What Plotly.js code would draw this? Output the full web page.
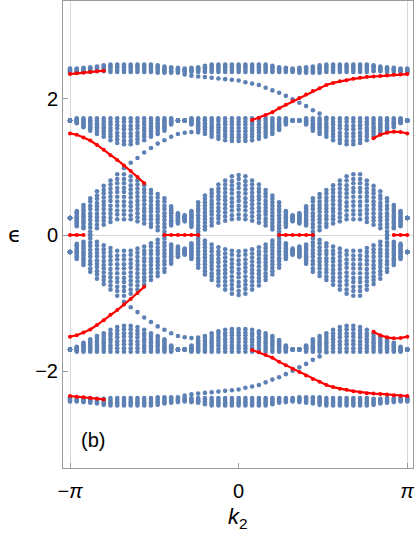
<!DOCTYPE html>
<html>
<head>
<meta charset="utf-8">
<script src="https://cdn.plot.ly/plotly-3.0.1.min.js"></script>
<style>
  html, body { margin: 0; padding: 0; background: #fff; }
  #graph { width: 415px; height: 535px; }
</style>
</head>
<body>
<div id="graph"></div>
<script>
// k2 grid, in units of pi (51 points)
const k2 = [-1,-.96,-.92,-.88,-.84,-.8,-.76,-.72,-.68,-.64,-.6,-.56,-.52,-.48,-.44,-.4,-.36,-.32,-.28,-.24,-.2,-.16,-.12,-.08,-.04,0,
  .04,.08,.12,.16,.2,.24,.28,.32,.36,.4,.44,.48,.52,.56,.6,.64,.68,.72,.76,.8,.84,.88,.92,.96,1];

// bulk levels, one array per level
const upperBand = [
  [2.38,2.39,2.39,2.39,2.40,2.40,2.39,2.39,2.39,2.39,2.39,2.39,2.39,2.38,2.38,2.38,2.38,2.39,2.39,2.39,2.39,2.39,2.39,2.39,2.39,2.39,2.39,2.39,2.39,2.39,2.39,2.39,2.39,2.39,2.38,2.38,2.38,2.38,2.39,2.39,2.39,2.39,2.39,2.39,2.39,2.40,2.40,2.39,2.39,2.39,2.38],
  [2.40,2.40,2.41,2.41,2.42,2.42,2.42,2.42,2.42,2.42,2.42,2.42,2.42,2.41,2.40,2.40,2.40,2.40,2.41,2.41,2.41,2.42,2.42,2.42,2.42,2.42,2.42,2.42,2.42,2.42,2.41,2.41,2.41,2.40,2.40,2.40,2.40,2.41,2.42,2.42,2.42,2.42,2.42,2.42,2.42,2.42,2.42,2.41,2.41,2.40,2.40],
  [2.41,2.42,2.42,2.43,2.44,2.45,2.45,2.45,2.45,2.45,2.45,2.45,2.45,2.44,2.43,2.42,2.42,2.42,2.42,2.43,2.44,2.45,2.45,2.45,2.45,2.45,2.45,2.45,2.45,2.45,2.44,2.43,2.42,2.42,2.42,2.42,2.43,2.44,2.45,2.45,2.45,2.45,2.45,2.45,2.45,2.45,2.44,2.43,2.42,2.42,2.41],
  [2.43,2.43,2.44,2.44,2.45,2.47,2.47,2.47,2.47,2.47,2.47,2.47,2.47,2.46,2.45,2.44,2.43,2.43,2.44,2.44,2.46,2.47,2.47,2.47,2.47,2.47,2.47,2.47,2.47,2.47,2.46,2.44,2.44,2.43,2.43,2.44,2.45,2.46,2.47,2.47,2.47,2.47,2.47,2.47,2.47,2.47,2.45,2.44,2.44,2.43,2.43],
  [2.44,2.44,2.45,2.46,2.47,2.49,2.50,2.50,2.50,2.50,2.50,2.50,2.50,2.49,2.47,2.46,2.45,2.44,2.45,2.46,2.48,2.50,2.50,2.50,2.50,2.50,2.50,2.50,2.50,2.50,2.48,2.46,2.45,2.44,2.45,2.46,2.47,2.49,2.50,2.50,2.50,2.50,2.50,2.50,2.50,2.49,2.47,2.46,2.45,2.44,2.44]
];
const upperBandNeg = [
  [-2.38,-2.39,-2.39,-2.39,-2.40,-2.40,-2.39,-2.39,-2.39,-2.39,-2.39,-2.39,-2.39,-2.38,-2.38,-2.38,-2.38,-2.39,-2.39,-2.39,-2.39,-2.39,-2.39,-2.39,-2.39,-2.39,-2.39,-2.39,-2.39,-2.39,-2.39,-2.39,-2.39,-2.39,-2.38,-2.38,-2.38,-2.38,-2.39,-2.39,-2.39,-2.39,-2.39,-2.39,-2.39,-2.40,-2.40,-2.39,-2.39,-2.39,-2.38],
  [-2.40,-2.40,-2.41,-2.41,-2.42,-2.42,-2.42,-2.42,-2.42,-2.42,-2.42,-2.42,-2.42,-2.41,-2.40,-2.40,-2.40,-2.40,-2.41,-2.41,-2.41,-2.42,-2.42,-2.42,-2.42,-2.42,-2.42,-2.42,-2.42,-2.42,-2.41,-2.41,-2.41,-2.40,-2.40,-2.40,-2.40,-2.41,-2.42,-2.42,-2.42,-2.42,-2.42,-2.42,-2.42,-2.42,-2.42,-2.41,-2.41,-2.40,-2.40],
  [-2.41,-2.42,-2.42,-2.43,-2.44,-2.45,-2.45,-2.45,-2.45,-2.45,-2.45,-2.45,-2.45,-2.44,-2.43,-2.42,-2.42,-2.42,-2.42,-2.43,-2.44,-2.45,-2.45,-2.45,-2.45,-2.45,-2.45,-2.45,-2.45,-2.45,-2.44,-2.43,-2.42,-2.42,-2.42,-2.42,-2.43,-2.44,-2.45,-2.45,-2.45,-2.45,-2.45,-2.45,-2.45,-2.45,-2.44,-2.43,-2.42,-2.42,-2.41],
  [-2.43,-2.43,-2.44,-2.44,-2.45,-2.47,-2.47,-2.47,-2.47,-2.47,-2.47,-2.47,-2.47,-2.46,-2.45,-2.44,-2.43,-2.43,-2.44,-2.44,-2.46,-2.47,-2.47,-2.47,-2.47,-2.47,-2.47,-2.47,-2.47,-2.47,-2.46,-2.44,-2.44,-2.43,-2.43,-2.44,-2.45,-2.46,-2.47,-2.47,-2.47,-2.47,-2.47,-2.47,-2.47,-2.47,-2.45,-2.44,-2.44,-2.43,-2.43],
  [-2.44,-2.44,-2.45,-2.46,-2.47,-2.49,-2.50,-2.50,-2.50,-2.50,-2.50,-2.50,-2.50,-2.49,-2.47,-2.46,-2.45,-2.44,-2.45,-2.46,-2.48,-2.50,-2.50,-2.50,-2.50,-2.50,-2.50,-2.50,-2.50,-2.50,-2.48,-2.46,-2.45,-2.44,-2.45,-2.46,-2.47,-2.49,-2.50,-2.50,-2.50,-2.50,-2.50,-2.50,-2.50,-2.49,-2.47,-2.46,-2.45,-2.44,-2.44]
];

const middleBand = [
  [1.68,1.64,1.58,1.53,1.48,1.44,1.39,1.35,1.33,1.33,1.35,1.39,1.44,1.48,1.53,1.62,1.68,1.68,1.62,1.54,1.48,1.44,1.41,1.39,1.38,1.38,1.38,1.39,1.41,1.44,1.48,1.54,1.62,1.68,1.68,1.62,1.53,1.48,1.44,1.39,1.35,1.33,1.33,1.35,1.39,1.44,1.48,1.53,1.58,1.64,1.68],
  [1.68,1.65,1.60,1.56,1.51,1.48,1.44,1.40,1.38,1.38,1.40,1.44,1.48,1.51,1.56,1.63,1.68,1.68,1.63,1.56,1.51,1.48,1.45,1.44,1.43,1.43,1.43,1.44,1.45,1.48,1.51,1.56,1.63,1.68,1.68,1.63,1.56,1.51,1.48,1.44,1.40,1.38,1.38,1.40,1.44,1.48,1.51,1.56,1.60,1.65,1.68],
  [1.68,1.66,1.62,1.58,1.55,1.52,1.48,1.45,1.44,1.44,1.45,1.48,1.52,1.55,1.58,1.65,1.68,1.68,1.65,1.59,1.55,1.52,1.50,1.48,1.47,1.47,1.47,1.48,1.50,1.52,1.55,1.59,1.65,1.68,1.68,1.65,1.58,1.55,1.52,1.48,1.45,1.44,1.44,1.45,1.48,1.52,1.55,1.58,1.62,1.66,1.68],
  [1.68,1.67,1.64,1.61,1.58,1.56,1.53,1.50,1.49,1.49,1.50,1.53,1.56,1.58,1.61,1.66,1.68,1.68,1.66,1.61,1.58,1.56,1.54,1.53,1.52,1.52,1.52,1.53,1.54,1.56,1.58,1.61,1.66,1.68,1.68,1.66,1.61,1.58,1.56,1.53,1.50,1.49,1.49,1.50,1.53,1.56,1.58,1.61,1.64,1.67,1.68],
  [1.68,1.68,1.65,1.63,1.61,1.59,1.57,1.56,1.55,1.55,1.56,1.57,1.59,1.61,1.63,1.67,1.68,1.68,1.67,1.64,1.61,1.59,1.58,1.57,1.57,1.57,1.57,1.57,1.58,1.59,1.61,1.64,1.67,1.68,1.68,1.67,1.63,1.61,1.59,1.57,1.56,1.55,1.55,1.56,1.57,1.59,1.61,1.63,1.65,1.68,1.68],
  [1.68,1.69,1.67,1.66,1.64,1.63,1.62,1.61,1.60,1.60,1.61,1.62,1.63,1.64,1.66,1.68,1.68,1.68,1.68,1.66,1.64,1.63,1.62,1.62,1.62,1.62,1.62,1.62,1.62,1.63,1.64,1.66,1.68,1.68,1.68,1.68,1.66,1.64,1.63,1.62,1.61,1.60,1.60,1.61,1.62,1.63,1.64,1.66,1.67,1.69,1.68],
  [1.68,1.70,1.69,1.68,1.68,1.67,1.66,1.66,1.66,1.66,1.66,1.66,1.67,1.68,1.68,1.70,1.68,1.68,1.70,1.69,1.68,1.67,1.67,1.66,1.66,1.66,1.66,1.66,1.67,1.67,1.68,1.69,1.70,1.68,1.68,1.70,1.68,1.68,1.67,1.66,1.66,1.66,1.66,1.66,1.66,1.67,1.68,1.68,1.69,1.70,1.68],
  [1.68,1.71,1.71,1.71,1.71,1.71,1.71,1.71,1.71,1.71,1.71,1.71,1.71,1.71,1.71,1.71,1.68,1.68,1.71,1.71,1.71,1.71,1.71,1.71,1.71,1.71,1.71,1.71,1.71,1.71,1.71,1.71,1.71,1.68,1.68,1.71,1.71,1.71,1.71,1.71,1.71,1.71,1.71,1.71,1.71,1.71,1.71,1.71,1.71,1.71,1.68]
];
const middleBandNeg = [
  [-1.68,-1.64,-1.58,-1.53,-1.48,-1.44,-1.39,-1.35,-1.33,-1.33,-1.35,-1.39,-1.44,-1.48,-1.53,-1.62,-1.68,-1.68,-1.62,-1.54,-1.48,-1.44,-1.41,-1.39,-1.38,-1.38,-1.38,-1.39,-1.41,-1.44,-1.48,-1.54,-1.62,-1.68,-1.68,-1.62,-1.53,-1.48,-1.44,-1.39,-1.35,-1.33,-1.33,-1.35,-1.39,-1.44,-1.48,-1.53,-1.58,-1.64,-1.68],
  [-1.68,-1.65,-1.60,-1.56,-1.51,-1.48,-1.44,-1.40,-1.38,-1.38,-1.40,-1.44,-1.48,-1.51,-1.56,-1.63,-1.68,-1.68,-1.63,-1.56,-1.51,-1.48,-1.45,-1.44,-1.43,-1.43,-1.43,-1.44,-1.45,-1.48,-1.51,-1.56,-1.63,-1.68,-1.68,-1.63,-1.56,-1.51,-1.48,-1.44,-1.40,-1.38,-1.38,-1.40,-1.44,-1.48,-1.51,-1.56,-1.60,-1.65,-1.68],
  [-1.68,-1.66,-1.62,-1.58,-1.55,-1.52,-1.48,-1.45,-1.44,-1.44,-1.45,-1.48,-1.52,-1.55,-1.58,-1.65,-1.68,-1.68,-1.65,-1.59,-1.55,-1.52,-1.50,-1.48,-1.47,-1.47,-1.47,-1.48,-1.50,-1.52,-1.55,-1.59,-1.65,-1.68,-1.68,-1.65,-1.58,-1.55,-1.52,-1.48,-1.45,-1.44,-1.44,-1.45,-1.48,-1.52,-1.55,-1.58,-1.62,-1.66,-1.68],
  [-1.68,-1.67,-1.64,-1.61,-1.58,-1.56,-1.53,-1.50,-1.49,-1.49,-1.50,-1.53,-1.56,-1.58,-1.61,-1.66,-1.68,-1.68,-1.66,-1.61,-1.58,-1.56,-1.54,-1.53,-1.52,-1.52,-1.52,-1.53,-1.54,-1.56,-1.58,-1.61,-1.66,-1.68,-1.68,-1.66,-1.61,-1.58,-1.56,-1.53,-1.50,-1.49,-1.49,-1.50,-1.53,-1.56,-1.58,-1.61,-1.64,-1.67,-1.68],
  [-1.68,-1.68,-1.65,-1.63,-1.61,-1.59,-1.57,-1.56,-1.55,-1.55,-1.56,-1.57,-1.59,-1.61,-1.63,-1.67,-1.68,-1.68,-1.67,-1.64,-1.61,-1.59,-1.58,-1.57,-1.57,-1.57,-1.57,-1.57,-1.58,-1.59,-1.61,-1.64,-1.67,-1.68,-1.68,-1.67,-1.63,-1.61,-1.59,-1.57,-1.56,-1.55,-1.55,-1.56,-1.57,-1.59,-1.61,-1.63,-1.65,-1.68,-1.68],
  [-1.68,-1.69,-1.67,-1.66,-1.64,-1.63,-1.62,-1.61,-1.60,-1.60,-1.61,-1.62,-1.63,-1.64,-1.66,-1.68,-1.68,-1.68,-1.68,-1.66,-1.64,-1.63,-1.62,-1.62,-1.62,-1.62,-1.62,-1.62,-1.62,-1.63,-1.64,-1.66,-1.68,-1.68,-1.68,-1.68,-1.66,-1.64,-1.63,-1.62,-1.61,-1.60,-1.60,-1.61,-1.62,-1.63,-1.64,-1.66,-1.67,-1.69,-1.68],
  [-1.68,-1.70,-1.69,-1.68,-1.68,-1.67,-1.66,-1.66,-1.66,-1.66,-1.66,-1.66,-1.67,-1.68,-1.68,-1.70,-1.68,-1.68,-1.70,-1.69,-1.68,-1.67,-1.67,-1.66,-1.66,-1.66,-1.66,-1.66,-1.67,-1.67,-1.68,-1.69,-1.70,-1.68,-1.68,-1.70,-1.68,-1.68,-1.67,-1.66,-1.66,-1.66,-1.66,-1.66,-1.66,-1.67,-1.68,-1.68,-1.69,-1.70,-1.68],
  [-1.68,-1.71,-1.71,-1.71,-1.71,-1.71,-1.71,-1.71,-1.71,-1.71,-1.71,-1.71,-1.71,-1.71,-1.71,-1.71,-1.68,-1.68,-1.71,-1.71,-1.71,-1.71,-1.71,-1.71,-1.71,-1.71,-1.71,-1.71,-1.71,-1.71,-1.71,-1.71,-1.71,-1.68,-1.68,-1.71,-1.71,-1.71,-1.71,-1.71,-1.71,-1.71,-1.71,-1.71,-1.71,-1.71,-1.71,-1.71,-1.71,-1.71,-1.68]
];

const centralBand = [
  [.25,.13,.10,0,.10,.15,.19,.23,.23,.23,.20,.17,.12,.07,0,.14,.17,.20,.12,0,.08,.14,.18,.21,.23,.24,.23,.21,.18,.14,.08,0,.12,.20,.17,.14,0,.07,.12,.17,.20,.23,.23,.23,.19,.15,.10,0,.10,.13,.25],
  [.25,.15,.13,.05,.15,.21,.25,.30,.30,.29,.26,.23,.17,.12,.05,.17,.19,.21,.14,.05,.13,.19,.24,.27,.29,.30,.29,.27,.24,.19,.13,.05,.14,.21,.19,.17,.05,.12,.17,.23,.26,.29,.30,.30,.25,.21,.15,.05,.13,.15,.25],
  [.25,.17,.17,.11,.21,.26,.31,.36,.36,.36,.32,.28,.23,.18,.11,.20,.20,.22,.17,.10,.18,.24,.29,.33,.36,.37,.36,.33,.29,.24,.18,.10,.17,.22,.20,.20,.11,.18,.23,.28,.32,.36,.36,.36,.31,.26,.21,.11,.17,.17,.25],
  [.25,.20,.20,.16,.26,.32,.37,.43,.43,.42,.38,.34,.28,.23,.16,.22,.22,.23,.19,.14,.23,.30,.35,.39,.42,.43,.42,.39,.35,.30,.23,.14,.19,.23,.22,.22,.16,.23,.28,.34,.38,.42,.43,.43,.37,.32,.26,.16,.20,.20,.25],
  [.25,.22,.24,.22,.31,.38,.43,.49,.49,.48,.44,.39,.34,.28,.22,.25,.23,.24,.21,.19,.28,.35,.40,.45,.48,.50,.48,.45,.40,.35,.28,.19,.21,.24,.23,.25,.22,.28,.34,.39,.44,.48,.49,.49,.43,.38,.31,.22,.24,.22,.25],
  [.25,.24,.27,.27,.37,.44,.50,.56,.56,.55,.50,.45,.39,.34,.27,.28,.25,.25,.24,.24,.33,.40,.46,.51,.54,.56,.54,.51,.46,.40,.33,.24,.24,.25,.25,.28,.27,.34,.39,.45,.50,.55,.56,.56,.50,.44,.37,.27,.27,.24,.25],
  [.25,.26,.30,.32,.42,.49,.56,.63,.63,.61,.56,.51,.44,.39,.32,.31,.26,.25,.26,.29,.38,.45,.52,.56,.61,.62,.61,.56,.52,.45,.38,.29,.26,.25,.26,.31,.32,.39,.44,.51,.56,.61,.63,.63,.56,.49,.42,.32,.30,.26,.25],
  [.25,.28,.34,.38,.47,.55,.62,.69,.69,.67,.62,.56,.50,.44,.38,.33,.28,.26,.28,.34,.43,.50,.57,.62,.67,.69,.67,.62,.57,.50,.43,.34,.28,.26,.28,.33,.38,.44,.50,.56,.62,.67,.69,.69,.62,.55,.47,.38,.34,.28,.25],
  [.25,.31,.37,.43,.53,.61,.68,.76,.76,.73,.68,.62,.55,.49,.43,.36,.29,.27,.30,.38,.48,.56,.63,.68,.73,.75,.73,.68,.63,.56,.48,.38,.30,.27,.29,.36,.43,.49,.55,.62,.68,.73,.76,.76,.68,.61,.53,.43,.37,.31,.25],
  [.25,.33,.41,.49,.58,.66,.74,.82,.82,.80,.74,.67,.61,.55,.49,.39,.31,.28,.33,.43,.53,.61,.68,.74,.79,.82,.79,.74,.68,.61,.53,.43,.33,.28,.31,.39,.49,.55,.61,.67,.74,.80,.82,.82,.74,.66,.58,.49,.41,.33,.25],
  [.25,.35,.44,.54,.64,.72,.80,.89,.89,.86,.80,.73,.66,.60,.54,.42,.32,.29,.35,.48,.58,.66,.74,.80,.86,.88,.86,.80,.74,.66,.58,.48,.35,.29,.32,.42,.54,.60,.66,.73,.80,.86,.89,.89,.80,.72,.64,.54,.44,.35,.25]
];
const centralBandNeg = [
  [-.25,-.13,-.10,0,-.10,-.15,-.19,-.23,-.23,-.23,-.20,-.17,-.12,-.07,0,-.14,-.17,-.20,-.12,0,-.08,-.14,-.18,-.21,-.23,-.24,-.23,-.21,-.18,-.14,-.08,0,-.12,-.20,-.17,-.14,0,-.07,-.12,-.17,-.20,-.23,-.23,-.23,-.19,-.15,-.10,0,-.10,-.13,-.25],
  [-.25,-.15,-.13,-.05,-.15,-.21,-.25,-.30,-.30,-.29,-.26,-.23,-.17,-.12,-.05,-.17,-.19,-.21,-.14,-.05,-.13,-.19,-.24,-.27,-.29,-.30,-.29,-.27,-.24,-.19,-.13,-.05,-.14,-.21,-.19,-.17,-.05,-.12,-.17,-.23,-.26,-.29,-.30,-.30,-.25,-.21,-.15,-.05,-.13,-.15,-.25],
  [-.25,-.17,-.17,-.11,-.21,-.26,-.31,-.36,-.36,-.36,-.32,-.28,-.23,-.18,-.11,-.20,-.20,-.22,-.17,-.10,-.18,-.24,-.29,-.33,-.36,-.37,-.36,-.33,-.29,-.24,-.18,-.10,-.17,-.22,-.20,-.20,-.11,-.18,-.23,-.28,-.32,-.36,-.36,-.36,-.31,-.26,-.21,-.11,-.17,-.17,-.25],
  [-.25,-.20,-.20,-.16,-.26,-.32,-.37,-.43,-.43,-.42,-.38,-.34,-.28,-.23,-.16,-.22,-.22,-.23,-.19,-.14,-.23,-.30,-.35,-.39,-.42,-.43,-.42,-.39,-.35,-.30,-.23,-.14,-.19,-.23,-.22,-.22,-.16,-.23,-.28,-.34,-.38,-.42,-.43,-.43,-.37,-.32,-.26,-.16,-.20,-.20,-.25],
  [-.25,-.22,-.24,-.22,-.31,-.38,-.43,-.49,-.49,-.48,-.44,-.39,-.34,-.28,-.22,-.25,-.23,-.24,-.21,-.19,-.28,-.35,-.40,-.45,-.48,-.50,-.48,-.45,-.40,-.35,-.28,-.19,-.21,-.24,-.23,-.25,-.22,-.28,-.34,-.39,-.44,-.48,-.49,-.49,-.43,-.38,-.31,-.22,-.24,-.22,-.25],
  [-.25,-.24,-.27,-.27,-.37,-.44,-.50,-.56,-.56,-.55,-.50,-.45,-.39,-.34,-.27,-.28,-.25,-.25,-.24,-.24,-.33,-.40,-.46,-.51,-.54,-.56,-.54,-.51,-.46,-.40,-.33,-.24,-.24,-.25,-.25,-.28,-.27,-.34,-.39,-.45,-.50,-.55,-.56,-.56,-.50,-.44,-.37,-.27,-.27,-.24,-.25],
  [-.25,-.26,-.30,-.32,-.42,-.49,-.56,-.63,-.63,-.61,-.56,-.51,-.44,-.39,-.32,-.31,-.26,-.25,-.26,-.29,-.38,-.45,-.52,-.56,-.61,-.62,-.61,-.56,-.52,-.45,-.38,-.29,-.26,-.25,-.26,-.31,-.32,-.39,-.44,-.51,-.56,-.61,-.63,-.63,-.56,-.49,-.42,-.32,-.30,-.26,-.25],
  [-.25,-.28,-.34,-.38,-.47,-.55,-.62,-.69,-.69,-.67,-.62,-.56,-.50,-.44,-.38,-.33,-.28,-.26,-.28,-.34,-.43,-.50,-.57,-.62,-.67,-.69,-.67,-.62,-.57,-.50,-.43,-.34,-.28,-.26,-.28,-.33,-.38,-.44,-.50,-.56,-.62,-.67,-.69,-.69,-.62,-.55,-.47,-.38,-.34,-.28,-.25],
  [-.25,-.31,-.37,-.43,-.53,-.61,-.68,-.76,-.76,-.73,-.68,-.62,-.55,-.49,-.43,-.36,-.29,-.27,-.30,-.38,-.48,-.56,-.63,-.68,-.73,-.75,-.73,-.68,-.63,-.56,-.48,-.38,-.30,-.27,-.29,-.36,-.43,-.49,-.55,-.62,-.68,-.73,-.76,-.76,-.68,-.61,-.53,-.43,-.37,-.31,-.25],
  [-.25,-.33,-.41,-.49,-.58,-.66,-.74,-.82,-.82,-.80,-.74,-.67,-.61,-.55,-.49,-.39,-.31,-.28,-.33,-.43,-.53,-.61,-.68,-.74,-.79,-.82,-.79,-.74,-.68,-.61,-.53,-.43,-.33,-.28,-.31,-.39,-.49,-.55,-.61,-.67,-.74,-.80,-.82,-.82,-.74,-.66,-.58,-.49,-.41,-.33,-.25],
  [-.25,-.35,-.44,-.54,-.64,-.72,-.80,-.89,-.89,-.86,-.80,-.73,-.66,-.60,-.54,-.42,-.32,-.29,-.35,-.48,-.58,-.66,-.74,-.80,-.86,-.88,-.86,-.80,-.74,-.66,-.58,-.48,-.35,-.29,-.32,-.42,-.54,-.60,-.66,-.73,-.80,-.86,-.89,-.89,-.80,-.72,-.64,-.54,-.44,-.35,-.25]
];

// in-gap states drawn in blue
const blueEdgeUpperK = [-.32,-.28,-.24,-.2,-.16,-.12,-.08,-.04,0,.04,.08,.12,.16,.2,.24,.28,.32,.36,.4,.44,.48,.52];
const blueEdgeUpper = [2.355,2.335,2.325,2.315,2.305,2.295,2.285,2.275,2.265,2.24,2.22,2.20,2.16,2.12,2.085,2.04,1.99,1.94,1.89,1.83,1.78,1.72];
const blueEdgeUpperNeg = [-2.355,-2.335,-2.325,-2.315,-2.305,-2.295,-2.285,-2.275,-2.265,-2.24,-2.22,-2.20,-2.16,-2.12,-2.085,-2.04,-1.99,-1.94,-1.89,-1.83,-1.78,-1.72];
const blueEdgeLowerK = [-.68,-.64,-.6,-.56,-.52,-.48,-.44,-.4,-.36,-.32,-.28,-.24];
const blueEdgeLower = [.98,1.06,1.13,1.21,1.275,1.34,1.39,1.44,1.48,1.50,1.51,1.505];
const blueEdgeLowerNeg = [-.98,-1.06,-1.13,-1.21,-1.275,-1.34,-1.39,-1.44,-1.48,-1.50,-1.51,-1.505];

// in-gap states drawn in red
const redRiseK = [.08,.12,.16,.2,.24,.28,.32,.36,.4,.44,.48,.52,.56,.6,.64,.68,.72,.76,.8,.84,.88,.92,.96,1];
const redRise = [1.685,1.72,1.76,1.80,1.86,1.91,1.96,2.01,2.06,2.11,2.15,2.20,2.23,2.255,2.27,2.29,2.305,2.32,2.325,2.33,2.34,2.35,2.355,2.36];
const redRiseNeg = [-1.685,-1.72,-1.76,-1.80,-1.86,-1.91,-1.96,-2.01,-2.06,-2.11,-2.15,-2.20,-2.23,-2.255,-2.27,-2.29,-2.305,-2.32,-2.325,-2.33,-2.34,-2.35,-2.355,-2.36];
const redRiseWrapK = [-1,-.96,-.92,-.88,-.84,-.8];
const redRiseWrap = [2.36,2.37,2.38,2.39,2.40,2.41];
const redRiseWrapNeg = [-2.36,-2.37,-2.38,-2.39,-2.40,-2.41];
const redFallK = [-1,-.96,-.92,-.88,-.84,-.8,-.76,-.72,-.68,-.64,-.6,-.56];
const redFall = [1.49,1.47,1.43,1.385,1.32,1.25,1.17,1.10,1.02,.94,.85,.76];
const redFallNeg = [-1.49,-1.47,-1.43,-1.385,-1.32,-1.25,-1.17,-1.10,-1.02,-.94,-.85,-.76];
const redFallWrapK = [.8,.84,.88,.92,.96,1];
const redFallWrap = [1.42,1.47,1.50,1.515,1.51,1.49];
const redFallWrapNeg = [-1.42,-1.47,-1.50,-1.515,-1.51,-1.49];
const zeroModeK = [[-1,-.96,-.92], [-.44,-.4,-.36,-.32,-.28,-.24], [.24,.28,.32,.36,.4,.44], [.92,.96,1]];
const zeroModeE = [[0,0,0], [0,0,0,0,0,0], [0,0,0,0,0,0], [0,0,0]];

const blue = "#5e81b5";
const red = "#ff0000";
const xRange = [-1.0415, 1.0338];
const dotSize = 4.6;

function bandTrace(levels) {
  var xs = [], ys = [];
  levels.forEach(function (lev) {
    lev.forEach(function (e, j) {
      xs.push(k2[j]);
      ys.push(e);
    });
  });
  return { x: xs, y: ys, type: "scatter", mode: "markers",
    marker: { color: blue, size: dotSize }, hoverinfo: "skip" };
}
function blueTrace(xs, ys) {
  return { x: xs, y: ys, type: "scatter", mode: "markers",
    marker: { color: blue, size: dotSize }, hoverinfo: "skip" };
}
function redTrace(xs, ys) {
  return { x: xs, y: ys, type: "scatter", mode: "lines+markers", xaxis: "x2",
    line: { color: red, width: 2.2 }, marker: { color: red, size: 4 }, hoverinfo: "skip" };
}

var traces = [
  bandTrace(upperBand), bandTrace(upperBandNeg),
  bandTrace(middleBand), bandTrace(middleBandNeg),
  bandTrace(centralBand), bandTrace(centralBandNeg),
  blueTrace(blueEdgeUpperK, blueEdgeUpper), blueTrace(blueEdgeUpperK, blueEdgeUpperNeg),
  blueTrace(blueEdgeLowerK, blueEdgeLower), blueTrace(blueEdgeLowerK, blueEdgeLowerNeg),
  redTrace(redRiseK, redRise), redTrace(redRiseK, redRiseNeg),
  redTrace(redRiseWrapK, redRiseWrap), redTrace(redRiseWrapK, redRiseWrapNeg),
  redTrace(redFallK, redFall), redTrace(redFallK, redFallNeg),
  redTrace(redFallWrapK, redFallWrap), redTrace(redFallWrapK, redFallWrapNeg)
];
zeroModeK.forEach(function (seg, i) {
  traces.push(redTrace(seg, zeroModeE[i]));
});

var frame = "#9a9a9a";
var grid = "#d8d8d8";
var layout = {
  width: 415,
  height: 535,
  margin: { l: 63, r: 2, t: 1, b: 67 },
  showlegend: false,
  paper_bgcolor: "#ffffff",
  plot_bgcolor: "#ffffff",
  font: { family: "Liberation Sans, Arial, sans-serif", size: 20, color: "#000" },
  xaxis: {
    range: xRange, tickmode: "array", tickvals: [-1, 0, 1],
    ticktext: ["\u2212<i>\u03c0</i>", "0", "<i>\u03c0</i>"],
    ticks: "inside", ticklen: 5, tickcolor: frame, tickwidth: 1,
    ticklabelstandoff: 5,
    showline: true, mirror: true, linecolor: frame, linewidth: 1,
    showgrid: false, zeroline: false, fixedrange: true
  },
  xaxis2: {
    overlaying: "x", range: xRange, tickmode: "array", tickvals: [-1, 1],
    showticklabels: false, ticks: "", showline: false,
    showgrid: true, gridcolor: grid, gridwidth: 1, zeroline: false, fixedrange: true
  },
  yaxis: {
    range: [-3.416, 3.431], tickmode: "array", tickvals: [-2, 0, 2],
    ticktext: ["\u22122", "0", "2"],
    ticks: "inside", ticklen: 5, tickcolor: frame, tickwidth: 1,
    showline: true, mirror: true, linecolor: frame, linewidth: 1,
    showgrid: false, zeroline: true, zerolinecolor: grid, zerolinewidth: 1,
    zerolinelayer: "below traces", fixedrange: true
  },
  annotations: [
    { text: "\u03f5", xref: "paper", yref: "paper", x: -0.137, y: 0.5,
      xanchor: "center", yanchor: "middle", showarrow: false,
      font: { family: "DejaVu Sans, sans-serif", size: 22, color: "#000" } },
    { text: "<i>k</i><sub>2</sub>", xref: "paper", yref: "paper", x: 0.5, y: -0.108,
      xanchor: "center", yanchor: "middle", showarrow: false,
      font: { size: 22, color: "#000" } },
    { text: "(b)", xref: "paper", yref: "paper", x: 0.046, y: 0.06,
      xanchor: "left", yanchor: "middle", showarrow: false,
      font: { size: 20, color: "#000" } }
  ]
};

Plotly.newPlot("graph", traces, layout, { displayModeBar: false, staticPlot: true });
</script>
</body>
</html>
